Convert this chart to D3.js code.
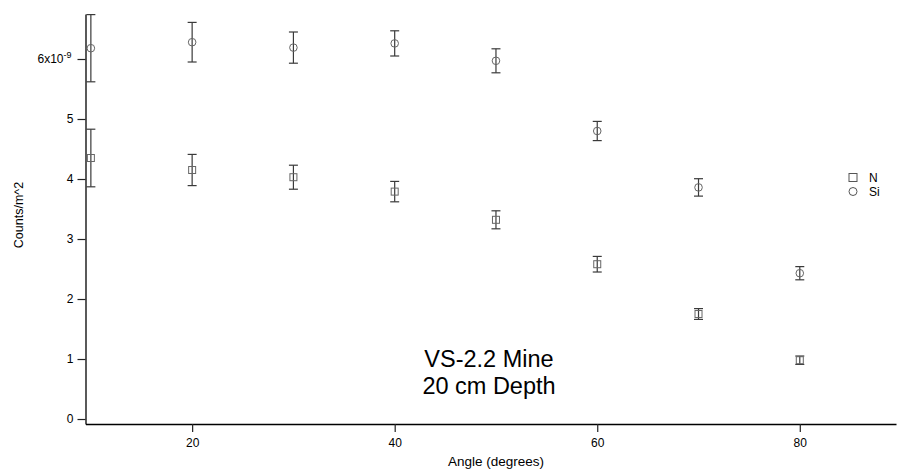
<!DOCTYPE html>
<html>
<head>
<meta charset="utf-8">
<script src="https://cdn.jsdelivr.net/npm/d3@7"></script>
<style>
  body { margin: 0; background: #fff; }
  svg { font-family: "Liberation Sans", Arial, sans-serif; }
</style>
</head>
<body>
<div id="chart-area"></div>
<script>
var angles = [10, 20, 30, 40, 50, 60, 70, 80];
var nValues = [4.35, 4.15, 4.03, 3.79, 3.32, 2.58, 1.75, 0.98];
var nErrors = [0.48, 0.26, 0.20, 0.17, 0.15, 0.13, 0.09, 0.07];
var siValues = [6.18, 6.28, 6.19, 6.26, 5.97, 4.80, 3.86, 2.43];
var siErrors = [0.56, 0.33, 0.26, 0.21, 0.20, 0.16, 0.145, 0.11];
var xTicks = [20, 40, 60, 80];
var yTicks = [0, 1, 2, 3, 4, 5, 6];

var width = 897;
var height = 470;

var svg = d3.select("#chart-area")
	.append("svg")
	.attr("width", width)
	.attr("height", height);

var xScale = d3.scaleLinear()
	.domain([9.47, 89.5])
	.range([85.5, 896]);

var yScale = d3.scaleLinear()
	.domain([-0.083, 6.75])
	.range([424, 14]);

// axes
var xAxis = d3.axisBottom(xScale)
	.tickValues(xTicks)
	.tickSize(8)
	.tickPadding(6)
	.tickSizeOuter(0);

var xAxisG = svg.append("g")
	.attr("transform", "translate(0," + yScale.range()[0] + ")")
	.call(xAxis);

var yAxis = d3.axisLeft(yScale)
	.tickValues(yTicks)
	.tickSize(8)
	.tickPadding(4)
	.tickSizeOuter(0)
	.tickFormat(d => d === 6 ? "" : d);

var yAxisG = svg.append("g")
	.attr("transform", "translate(" + xScale.range()[0] + ",0)")
	.call(yAxis);

[xAxisG, yAxisG].forEach(g => {
	g.select(".domain").attr("stroke", "#000").attr("stroke-width", 1.3);
	g.selectAll(".tick line").attr("stroke", "#222").attr("stroke-width", 1.2);
	g.selectAll(".tick text")
		.attr("font-size", "12px")
		.attr("fill", "#000")
		.attr("font-family", "'Liberation Sans', Arial, sans-serif");
});

// 6x10^-9 label
var sixLabel = yAxisG.selectAll(".tick")
	.filter(d => d === 6)
	.select("text");
sixLabel.text("6x10");
sixLabel.append("tspan")
	.attr("dy", "-0.55em")
	.attr("font-size", "9px")
	.text("-9");
sixLabel.attr("x", -14);

svg.append("text")
	.attr("x", 496)
	.attr("y", 466)
	.attr("text-anchor", "middle")
	.attr("font-size", "13.5px")
	.text("Angle (degrees)");

svg.append("text")
	.attr("transform", "translate(23," + yScale(3.4) + ") rotate(-90)")
	.attr("text-anchor", "middle")
	.attr("font-size", "12.5px")
	.text("Counts/m^2");

// data
var nData = angles.map((a, i) => ({ x: a, y: nValues[i], e: nErrors[i] }));
var siData = angles.map((a, i) => ({ x: a, y: siValues[i], e: siErrors[i] }));

function errorBars(data, cls) {
	var g = svg.append("g").attr("class", cls)
		.attr("stroke", "#3a3a3a")
		.attr("stroke-width", 1.2);
	g.selectAll("line.v").data(data).enter().append("line")
		.attr("x1", d => xScale(d.x))
		.attr("x2", d => xScale(d.x))
		.attr("y1", d => yScale(d.y + d.e))
		.attr("y2", d => yScale(d.y - d.e));
	g.selectAll("line.top").data(data).enter().append("line")
		.attr("x1", d => xScale(d.x) - 4.5)
		.attr("x2", d => xScale(d.x) + 4.5)
		.attr("y1", d => yScale(d.y + d.e))
		.attr("y2", d => yScale(d.y + d.e));
	g.selectAll("line.bot").data(data).enter().append("line")
		.attr("x1", d => xScale(d.x) - 4.5)
		.attr("x2", d => xScale(d.x) + 4.5)
		.attr("y1", d => yScale(d.y - d.e))
		.attr("y2", d => yScale(d.y - d.e));
}

errorBars(nData, "n-err");
errorBars(siData, "si-err");

svg.append("g").selectAll("rect").data(nData).enter().append("rect")
	.attr("x", d => xScale(d.x) - 3.5)
	.attr("y", d => yScale(d.y) - 3.5)
	.attr("width", 7)
	.attr("height", 7)
	.attr("fill", "none")
	.attr("stroke", "#666")
	.attr("stroke-width", 1);

svg.append("g").selectAll("circle").data(siData).enter().append("circle")
	.attr("cx", d => xScale(d.x))
	.attr("cy", d => yScale(d.y))
	.attr("r", 3.8)
	.attr("fill", "none")
	.attr("stroke", "#666")
	.attr("stroke-width", 1);

// legend
var legend = svg.append("g").attr("transform", "translate(853,0)");
legend.append("rect")
	.attr("x", -4).attr("y", 173.5)
	.attr("width", 8).attr("height", 8)
	.attr("fill", "none").attr("stroke", "#555");
legend.append("circle")
	.attr("cx", 0).attr("cy", 191.5).attr("r", 4)
	.attr("fill", "none").attr("stroke", "#555");
legend.append("text").attr("x", 16).attr("y", 181.5)
	.attr("font-size", "12px").text("N");
legend.append("text").attr("x", 16).attr("y", 195.5)
	.attr("font-size", "12px").text("Si");

// annotation
var note = svg.append("text")
	.attr("text-anchor", "middle")
	.attr("font-size", "23.5px");
note.append("tspan").attr("x", 489).attr("y", 367).text("VS-2.2 Mine");
note.append("tspan").attr("x", 489).attr("y", 394).text("20 cm Depth");
</script>
</body>
</html>
